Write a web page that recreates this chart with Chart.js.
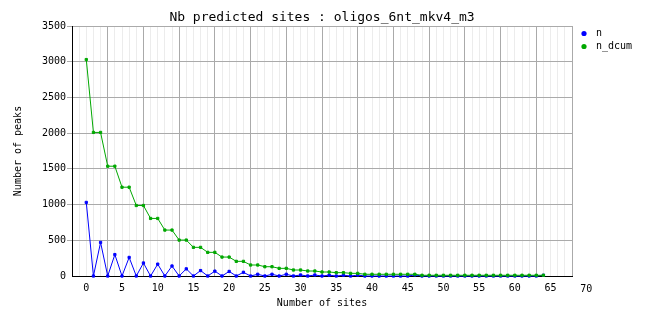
<!DOCTYPE html>
<html><head><meta charset="utf-8">
<script src="https://cdn.jsdelivr.net/npm/chart.js@4/dist/chart.umd.min.js"></script>
<style>html,body{margin:0;padding:0;background:#fff}canvas{display:block}</style>
</head><body><canvas id="c" width="662" height="328" style="width:662px;height:328px"></canvas>
<script>
const chartTitle = 'Nb predicted sites : oligos_6nt_mkv4_m3';
const xAxisTitle = 'Number of sites';
const yAxisTitle = 'Number of peaks';
const seriesNames = ['n', 'n_dcum'];
const sites = [0,1,2,3,4,5,6,7,8,9,10,11,12,13,14,15,16,17,18,19,20,21,22,23,24,25,26,27,28,29,30,31,32,33,34,35,36,37,38,39,40,41,42,43,44,45,46,47,48,49,50,51,52,53,54,55,56,57,58,59,60,61,62,63,64];
const nValues = [1030,0,470,0,300,0,260,0,182,0,166,0,140,0,100,0,76,0,68,0,64,0,52,0,24,0,24,0,24,0,14,0,14,0,12,0,11,0,13,0,0,0,0,0,0,0,14,0,0,0,0,0,0,0,0,0,0,0,0,0,0,0,0,0,10];
const nDcumValues = [3030,2010,2010,1537,1537,1243,1243,987,987,806,806,643,643,503,503,401,401,331,331,265,265,205,205,154,154,130,130,107,107,84,84,70,70,56,56,47,47,37,37,24,24,24,24,24,24,24,24,10,10,10,10,10,10,10,10,10,10,10,10,10,10,10,10,10,10];
const xTickLabels = [0,5,10,15,20,25,30,35,40,45,50,55,60,65,70];
const yTickValues = [0,500,1000,1500,2000,2500,3000,3500];
const xRange = [-2, 68];
const yRange = [0, 3500];

Chart.defaults.font.family = "'DejaVu Sans Mono', monospace";
Chart.defaults.color = '#000';

const toPoints = vals => sites.map((s, i) => ({x: s, y: vals[i]}));
const tickFont = {size: 10, family: "'DejaVu Sans Mono', monospace"};

// Safety net: if the native line of a dataset did not get painted, stroke it through the
// library-computed point elements.
const lineCheck = {
  id: 'lineCheck',
  afterDatasetDraw(chart, args) {
    const meta = args.meta, pts = meta.data, ctx = chart.ctx;
    if (!pts || pts.length < 2) return;
    const ds = chart.data.datasets[meta.index];
    const mx = Math.round((pts[0].x + pts[1].x) / 2), my = Math.round((pts[0].y + pts[1].y) / 2);
    let painted = false;
    try {
      for (let dx = -1; dx <= 1 && !painted; dx++) {
        const d = ctx.getImageData(mx + dx, my - 2, 1, 5).data;
        for (let k = 0; k < d.length; k += 4) {
          if (Math.abs(d[k] - d[k + 1]) > 60 || Math.abs(d[k + 1] - d[k + 2]) > 60) { painted = true; break; }
        }
      }
    } catch (e) { painted = false; }
    if (painted) return;
    const a = chart.chartArea;
    ctx.save();
    ctx.beginPath();
    ctx.rect(a.left, a.top - 2, a.right - a.left, a.bottom - a.top + 4);
    ctx.clip();
    ctx.beginPath();
    pts.forEach((p, i) => { if (i) ctx.lineTo(p.x, p.y); else ctx.moveTo(p.x, p.y); });
    ctx.strokeStyle = ds.borderColor;
    ctx.lineWidth = 1;
    ctx.stroke();
    ctx.restore();
  }
};

const sidePlugin = {
  id: 'sideLegend',
  afterDraw(chart) {
    const ctx = chart.ctx, area = chart.chartArea;
    ctx.save();
    ctx.font = "10px 'DejaVu Sans Mono', monospace";
    ctx.textBaseline = 'middle';
    ctx.textAlign = 'left';
    seriesNames.forEach((name, i) => {
      const ds = chart.data.datasets.find(d => d.label === name);
      const y = area.top + 7.5 + i * 13;
      ctx.fillStyle = ds.borderColor;
      ctx.beginPath();
      ctx.arc(area.right + 12, y, 2.6, 0, Math.PI * 2);
      ctx.fill();
      ctx.fillStyle = '#000';
      ctx.fillText(name, area.right + 24, y);
    });
    const sx = chart.scales.x;
    ctx.textAlign = 'center';
    ctx.textBaseline = 'top';
    xTickLabels.filter(v => v > sx.max).forEach(v => {
      ctx.fillText(String(v), sx.getPixelForValue(v), sx.top + 8);
    });
    ctx.restore();
  }
};

new Chart(document.getElementById('c'), {
  type: 'line',
  data: {
    datasets: [
      {label: seriesNames[1], data: toPoints(nDcumValues), borderColor: '#00a800', backgroundColor: '#00a800',
       borderWidth: 1, pointStyle: 'rect', pointRadius: 1.6, pointBorderWidth: 1},
      {label: seriesNames[0], data: toPoints(nValues), borderColor: '#0000ff', backgroundColor: '#0000ff',
       borderWidth: 1, pointStyle: 'rect', pointRadius: 1.6, pointBorderWidth: 1}
    ]
  },
  options: {
    responsive: false, animation: false,
    layout: {padding: {top: 0, right: 90, bottom: 0, left: 0}},
    plugins: {
      legend: {display: false},
      tooltip: {enabled: false},
      title: {display: true, text: chartTitle, fullSize: false, color: '#000',
              font: {size: 13, weight: 'normal', family: "'DejaVu Sans Mono', monospace"},
              padding: {top: 10, bottom: 0.4}}
    },
    scales: {
      x: {
        type: 'linear', bounds: 'data',
        afterDataLimits: s => { s.min = xRange[0]; s.max = xRange[1]; },
        afterBuildTicks: s => {
          const t = []; for (let v = xRange[0]; v <= xRange[1]; v++) t.push({value: v});
          s.ticks = t; s.min = xRange[0]; s.max = xRange[1];
        },
        grid: {color: c => { const m = ((c.tick.value % 5) + 5) % 5; if (c.tick.value === xRange[0]) return 'rgba(0,0,0,0)'; return m === 3 ? '#aaaaaa' : '#ececec'; }, drawTicks: false},
        border: {color: '#000', width: 1},
        ticks: {autoSkip: false, maxRotation: 0, padding: 6, font: tickFont, color: '#000',
                callback: v => xTickLabels.includes(v) ? String(v) : ''},
        title: {display: true, text: xAxisTitle, font: tickFont, color: '#000', padding: {top: 0, bottom: 19}},
        afterFit: s => { s.height = 52; }
      },
      y: {
        bounds: 'data',
        afterDataLimits: s => { s.min = yRange[0]; s.max = yRange[1]; },
        afterBuildTicks: s => { s.ticks = yTickValues.map(v => ({value: v})); s.min = yRange[0]; s.max = yRange[1]; },
        grid: {color: c => c.tick.value === 0 ? 'rgba(0,0,0,0)' : '#aaaaaa', tickLength: 5},
        border: {color: '#000', width: 1},
        ticks: {font: tickFont, color: '#000', padding: 1, callback: v => String(v)},
        title: {display: true, text: yAxisTitle, font: tickFont, color: '#000', padding: {top: 12, bottom: 0}},
        afterFit: s => { s.width = 72; }
      }
    }
  },
  plugins: [lineCheck, sidePlugin]
});
</script></body></html>
